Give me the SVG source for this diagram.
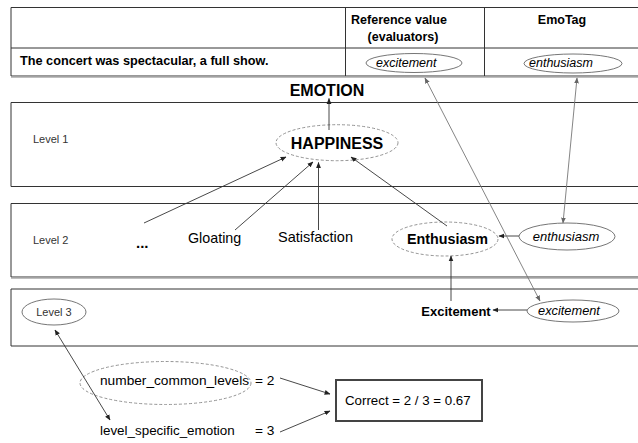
<svg xmlns="http://www.w3.org/2000/svg" width="638" height="443" viewBox="0 0 638 443">
<style>
text{font-family:"Liberation Sans",Arial,sans-serif;fill:#000}
.b{font-weight:bold}
.i{font-style:italic}
.lvl{font-size:11px;fill:#333}
.frame{fill:none;stroke:#333;stroke-width:1}
.shadow{stroke:#aaa;stroke-width:1.2}
.sol{fill:none;stroke:#666;stroke-width:0.9}
.dash{fill:none;stroke:#888;stroke-width:0.9;stroke-dasharray:3 2}
.c{fill:none;stroke:#333;stroke-width:0.9}
.g{fill:none;stroke:#777;stroke-width:0.9}
</style>
<defs>
<marker id="ah" viewBox="0 0 10 10" refX="9" refY="5" markerWidth="6" markerHeight="6" markerUnits="userSpaceOnUse" orient="auto-start-reverse"><path d="M0,1 L10,5 L0,9 z" fill="#222"/></marker>
<marker id="ahg" viewBox="0 0 10 10" refX="9" refY="5" markerWidth="6" markerHeight="6" markerUnits="userSpaceOnUse" orient="auto-start-reverse"><path d="M0,1 L10,5 L0,9 z" fill="#666"/></marker>
</defs>
<rect width="638" height="443" fill="#fff"/>

<g id="table">
<path class="frame" d="M11,7.5 H640 M11,48 H640 M11,7.5 V76 M345.5,7.5 V76 M484.5,7.5 V76 M11,76 H640"/>
<line class="shadow" x1="11" y1="77.2" x2="640" y2="77.2"/>
<text class="b" x="399" y="24" font-size="12.5" text-anchor="middle">Reference value</text>
<text class="b" x="403" y="41" font-size="12.5" text-anchor="middle">(evaluators)</text>
<text class="b" x="562" y="24" font-size="12.5" text-anchor="middle">EmoTag</text>
<text class="b" x="20" y="65" font-size="12.7">The concert was spectacular, a full show.</text>
</g>
<g id="ref-excitement">
<ellipse class="sol" cx="414" cy="63" rx="48" ry="9.5"/>
<text class="i" x="376" y="67" font-size="12.5">excitement</text>
</g>
<g id="tag-enthusiasm">
<ellipse class="sol" cx="573" cy="63.5" rx="49" ry="9.5"/>
<text class="i" x="529" y="67" font-size="12.5">enthusiasm</text>
</g>

<g id="emotion">
<text class="b" x="327" y="96" font-size="16" text-anchor="middle">EMOTION</text>
</g>

<g id="level1">
<path class="frame" d="M640,102.5 H11 V186.5 H640"/>
<text class="lvl" x="33" y="143">Level 1</text>
</g>
<g id="level2">
<path class="frame" d="M640,203.5 H11 V277 H640"/>
<line class="shadow" x1="11" y1="278.2" x2="640" y2="278.2"/>
<text class="lvl" x="33" y="244">Level 2</text>
</g>
<g id="level3">
<path class="frame" d="M640,289 H11 V346 H640"/>
<ellipse class="sol" cx="54" cy="312" rx="32" ry="13"/>
<text class="lvl" x="54" y="316" font-size="10.5" text-anchor="middle">Level 3</text>
</g>

<g id="happiness">
<ellipse class="dash" cx="337" cy="142.7" rx="61" ry="18"/>
<text class="b" x="337" y="148.5" font-size="16" text-anchor="middle">HAPPINESS</text>
</g>
<g id="dots">
<text class="b" x="136" y="248" font-size="15">...</text>
</g>
<g id="gloating">
<text x="188" y="243" font-size="14.3">Gloating</text>
</g>
<g id="satisfaction">
<text x="278" y="242" font-size="14.5">Satisfaction</text>
</g>
<g id="enthusiasm-node">
<ellipse class="dash" cx="445" cy="239" rx="53" ry="17"/>
<text class="b" x="447.5" y="243.5" font-size="14.3" text-anchor="middle">Enthusiasm</text>
</g>
<g id="l2-enthusiasm">
<ellipse class="sol" cx="567" cy="236.5" rx="48" ry="13.5"/>
<text class="i" x="566" y="240.5" font-size="13" text-anchor="middle">enthusiasm</text>
</g>
<g id="excitement-node">
<text class="b" x="456" y="316" font-size="13" text-anchor="middle">Excitement</text>
</g>
<g id="l3-excitement">
<ellipse class="sol" cx="573" cy="311" rx="46" ry="11"/>
<text class="i" x="569" y="315" font-size="12.8" text-anchor="middle">excitement</text>
</g>

<g id="number-common-levels">
<ellipse class="dash" cx="165.5" cy="383" rx="85.5" ry="21.5"/>
<text x="100" y="385" font-size="13.7">number_common_levels</text>
<text x="255" y="385" font-size="13.7">= 2</text>
</g>
<g id="level-specific-emotion">
<text x="100" y="435" font-size="13.4">level_specific_emotion</text>
<text x="255" y="435" font-size="13.7">= 3</text>
</g>
<g id="correct">
<rect x="336" y="380" width="146" height="41" fill="none" stroke="#444" stroke-width="2"/>
<text x="345" y="405" font-size="13.3">Correct = 2 / 3 = 0.67</text>
</g>

<g id="connectors">
<line class="c" x1="329" y1="130" x2="329" y2="98.5" marker-end="url(#ah)"/>
<line class="c" x1="144" y1="223" x2="286" y2="157" marker-end="url(#ah)"/>
<line class="c" x1="235" y1="230" x2="313" y2="162" marker-end="url(#ah)"/>
<line class="c" x1="318.5" y1="230" x2="318.5" y2="162.5" marker-end="url(#ah)"/>
<line class="c" x1="447" y1="226" x2="351" y2="157" marker-end="url(#ah)"/>
<line class="c" x1="519" y1="236" x2="499" y2="236" marker-end="url(#ah)"/>
<line class="c" x1="451" y1="301" x2="451" y2="256" marker-end="url(#ah)"/>
<line class="c" x1="527" y1="310" x2="493" y2="310" marker-end="url(#ah)"/>
<line class="g" x1="425" y1="78" x2="540" y2="301" marker-start="url(#ahg)" marker-end="url(#ahg)"/>
<line class="g" x1="577" y1="78" x2="563" y2="223" marker-start="url(#ahg)" marker-end="url(#ahg)"/>
<line class="c" x1="55" y1="330" x2="110" y2="420" marker-start="url(#ah)" marker-end="url(#ah)"/>
<line class="c" x1="280" y1="378" x2="330" y2="394" marker-end="url(#ah)"/>
<line class="c" x1="280" y1="432" x2="330" y2="411" marker-end="url(#ah)"/>
</g>
</svg>
